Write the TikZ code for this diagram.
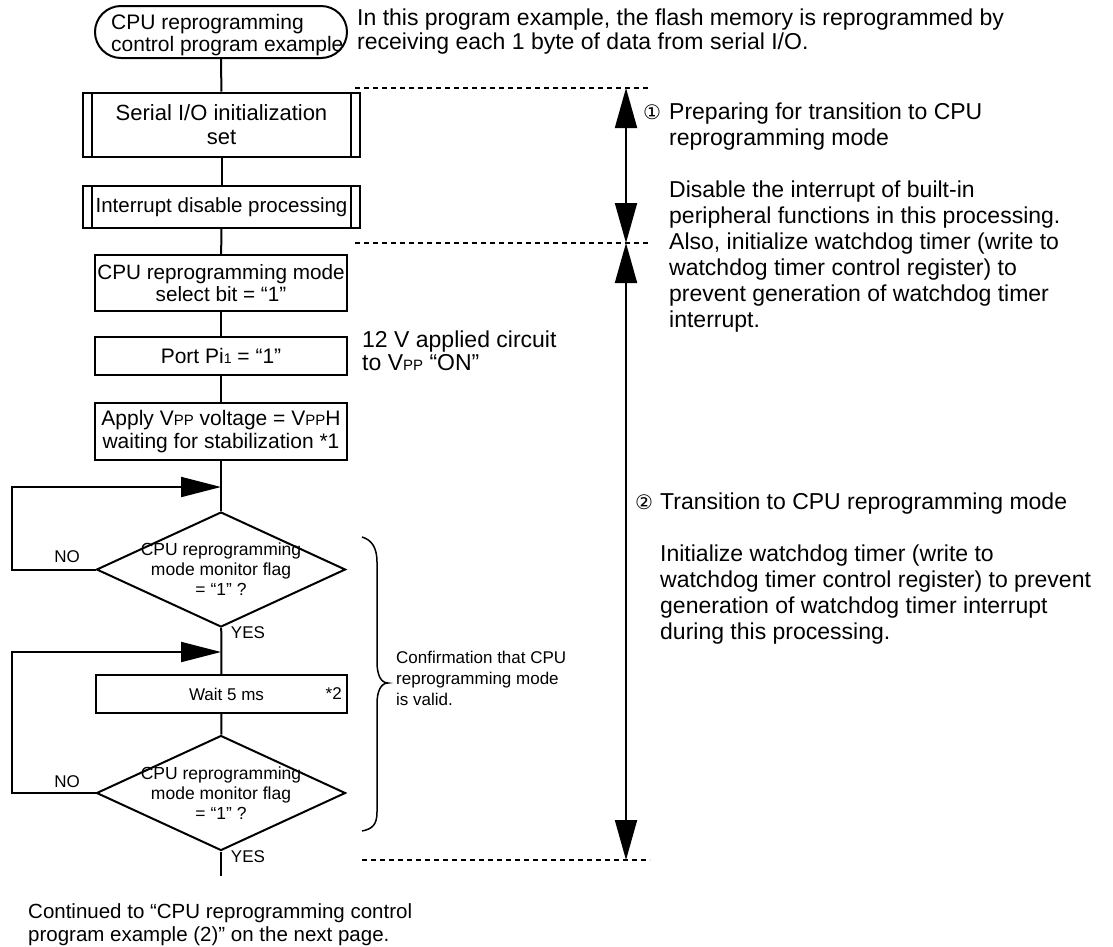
\documentclass[tikz,border=0pt]{standalone}
\usepackage{fontspec}
\setmainfont{Liberation Sans}
\newfontfamily\symfont{DejaVu Sans}
\usetikzlibrary{shapes.geometric,arrows.meta}

\newcommand{\fsz}[2]{\fontsize{#1}{#2}\selectfont}
\newcommand{\Vpp}{V{\fontsize{15}{15}\selectfont PP}}
\newcommand{\lowidx}[1]{{\fontsize{14}{14}\selectfont #1}}

\begin{document}
\begin{tikzpicture}[x=1pt,y=-1pt,
  procbox/.style={draw, line width=2pt, rectangle, inner sep=0pt, align=center},
  subproc/.style={procbox},
  decision/.style={draw, diamond, line width=2pt, inner sep=0pt},
  conn/.style={line width=2pt},
  backarrow/.style={line width=2pt, -{Triangle[length=40pt,width=20pt]}},
  extent/.style={line width=2pt, {Triangle[length=40pt,width=22pt]}-{Triangle[length=40pt,width=22pt]}},
  dashrule/.style={line width=1.5pt, dash pattern=on 5pt off 4pt},
  remark/.style={inner sep=0pt, align=left, anchor=north west},
  small/.style={inner sep=0pt, font=\fsz{17}{20}},
]
\useasboundingbox (0,0) rectangle (1113,946);

% ---------- main flow ----------
\node[procbox, rounded corners=26pt, minimum width=252pt, minimum height=52pt] (term) at (221,32) {};
\node[inner sep=0pt, align=left, anchor=west, font=\fsz{21}{22}] (termtxt) at (111,35)
  {CPU reprogramming\\control program example};

\node[subproc, minimum width=277pt, minimum height=64pt, font=\fsz{22}{24}]
  (serial) at (221.5,124.5) {Serial I/O initialization\\set};
\node[subproc, minimum width=277pt, minimum height=42pt, font=\fsz{20.5}{23}]
  (intr) at (221.5,207) {Interrupt disable processing};
\foreach \n in {serial,intr}{
  \draw[line width=2pt] ([xshift=10pt]\n.north west) -- ([xshift=10pt]\n.south west);
  \draw[line width=2pt] ([xshift=-10pt]\n.north east) -- ([xshift=-10pt]\n.south east);
}

\node[procbox, minimum width=252pt, minimum height=56pt, font=\fsz{20.7}{22}]
  (sel) at (221,283) {CPU reprogramming mode\\select bit = “1”};
\node[procbox, minimum width=252pt, minimum height=38pt, font=\fsz{21}{23}]
  (port) at (221,356) {Port Pi\lowidx{1} = “1”};
\node[procbox, minimum width=252pt, minimum height=57pt, font=\fsz{21}{23}]
  (apply) at (221,431.5) {Apply \Vpp{} voltage = \Vpp H\\waiting for stabilization *1};

\node[decision, minimum width=249pt, minimum height=115pt] (dia1) at (221,569.5) {};
\node[inner sep=0pt, align=center, font=\fsz{17.5}{20}] (q1) at (dia1.center)
  {CPU reprogramming\\mode monitor flag\\= “1” ?};

\node[procbox, minimum width=251pt, minimum height=38pt, font=\fsz{17}{20}]
  (wait) at (221.5,694) {\hspace*{10pt}Wait 5 ms};
\node[small, anchor=east] (w2) at ([xshift=-6pt]wait.east) {*2};

\node[decision, minimum width=249pt, minimum height=115pt] (dia2) at (221,793) {};
\node[inner sep=0pt, align=center, font=\fsz{17.5}{20}] (q2) at (dia2.center)
  {CPU reprogramming\\mode monitor flag\\= “1” ?};

\coordinate (exit) at (221,876);
\coordinate (j1) at (221,487);
\coordinate (l1) at (12,487);
\coordinate (j2) at (221,652);
\coordinate (l2) at (12,652);

\draw[conn] (term) -- (serial);
\draw[conn] (serial) -- (intr);
\draw[conn] (intr) -- (sel);
\draw[conn] (sel) -- (port);
\draw[conn] (port) -- (apply);
\draw[conn] (apply) -- (dia1);
\draw[conn] (dia1) -- (wait);
\draw[conn] (wait) -- (dia2);
\draw[conn] (dia2) -- (exit);

\draw[backarrow] (dia1.west) -| (l1) -- (j1);
\draw[backarrow] (dia2.west) -| (l2) -- (j2);

\node[small] (no1) at (67,557) {NO};
\node[small] (yes1) at (248,633) {YES};
\node[small] (no2) at (67,782) {NO};
\node[small] (yes2) at (248,857) {YES};

% ---------- brace over the confirmation loop ----------
\draw[line width=1.5pt]
  (362,537) .. controls (372,540) and (377,548) .. (377,562)
  -- (377,662) .. controls (377,675) and (381,683) .. (388,683)
  .. controls (381,683) and (377,691) .. (377,704)
  -- (377,812) .. controls (377,825) and (372,829) .. (362,831);
\node[remark, font=\fsz{17}{21}] (conf) at (396,651)
  {Confirmation that CPU\\reprogramming mode\\is valid.};

% ---------- annotations ----------
\node[remark, font=\fsz{23}{24}] (intro) at (357,9)
  {In this program example, the flash memory is reprogrammed by\\receiving each 1 byte of data from serial I/O.};
\node[remark, font=\fsz{23}{23}] (vppnote) at (362,331)
  {12 V applied circuit\\to \Vpp{} “ON”};

% ---------- phase extents ----------
\coordinate (r1) at (626,88);
\coordinate (r2) at (626,243);
\coordinate (r3) at (626,860);
\coordinate (d1a) at (355,88);  \coordinate (d1b) at (650,88);
\coordinate (d2a) at (355,243); \coordinate (d2b) at (650,243);
\coordinate (d3a) at (362,860); \coordinate (d3b) at (650,860);
\draw[dashrule] (d1a) -- (d1b);
\draw[dashrule] (d2a) -- (d2b);
\draw[dashrule] (d3a) -- (d3b);
\draw[extent] (r1) -- (r2);
\draw[extent] (r2) -- (r3);

\node[inner sep=0pt, font=\symfont\fsz{20}{20}] (c1) at (652,112) {①};
\node[remark, font=\fsz{23}{26}] (phase1) at (669,103)
  {Preparing for transition to CPU\\reprogramming mode\\[26pt]Disable the interrupt of built-in\\peripheral functions in this processing.\\Also, initialize watchdog timer (write to\\watchdog timer control register) to\\prevent generation of watchdog timer\\interrupt.};

\node[inner sep=0pt, font=\symfont\fsz{20}{20}] (c2) at (644,502) {②};
\node[remark, font=\fsz{23}{26}] (phase2) at (660,493)
  {Transition to CPU reprogramming mode\\[26pt]Initialize watchdog timer (write to\\watchdog timer control register) to prevent\\generation of watchdog timer interrupt\\during this processing.};

\node[remark, font=\fsz{20.5}{23}] (cont) at (28,903)
  {Continued to “CPU reprogramming control\\program example (2)” on the next page.};
\end{tikzpicture}
\end{document}
